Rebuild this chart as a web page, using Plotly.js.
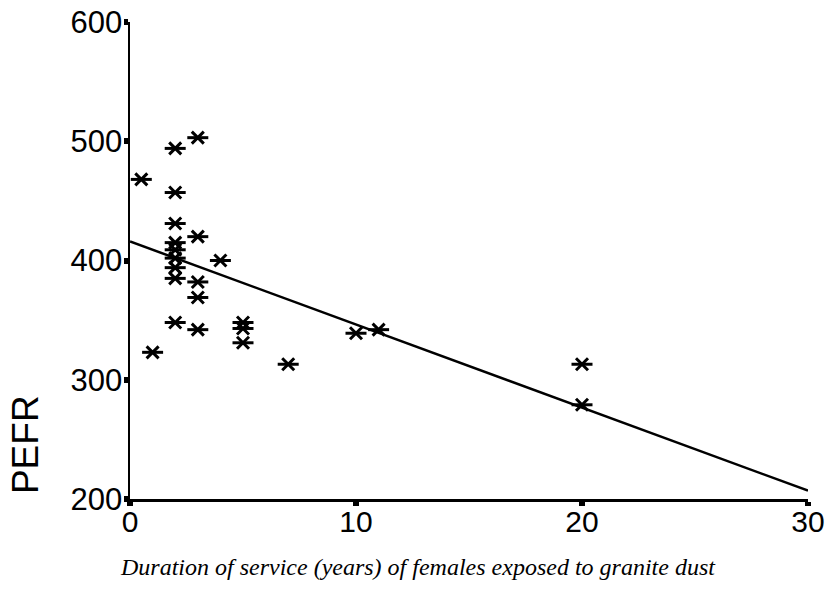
<!DOCTYPE html>
<html>
<head>
<meta charset="utf-8">
<script src="https://cdn.plot.ly/plotly-3.0.1.min.js"></script>
<style>html,body{margin:0;padding:0;background:#fff;}#chart{width:835px;height:594px;}</style>
</head>
<body>
<div id="chart"></div>
<script>
// Duration of service (years) and PEFR for each female worker
const years = [0.5, 1, 2, 2, 2, 2, 2, 2, 2, 2, 2, 3, 3, 3, 3, 3, 4, 5, 5, 5, 7, 10, 11, 20, 20];
const pefr  = [468, 323, 494, 457, 431, 415, 409, 402, 394, 385, 348, 503, 420, 382, 369, 342, 400, 348, 343, 331, 313, 339, 342, 313, 279];
// Regression line end points
const fitX = [0, 30];
const fitY = [416, 207];
const xTicks = [0, 10, 20, 30];
const yTicks = [200, 300, 400, 500, 600];

const markerBase = {color: '#000', line: {color: '#000', width: 3}};
const traces = [
  {x: fitX, y: fitY, mode: 'lines', line: {color: '#000', width: 2.5}, hoverinfo: 'skip', cliponaxis: false},
  {x: years, y: pefr, mode: 'markers', cliponaxis: false,
   marker: Object.assign({}, markerBase, {symbol: 'x-thin-open', size: 12})},
  {x: years, y: pefr, mode: 'markers', cliponaxis: false,
   marker: Object.assign({}, markerBase, {symbol: 'line-ew-open', size: 15})}
];

const layout = {
  width: 835, height: 594,
  margin: {l: 130, r: 27, t: 22, b: 95},
  showlegend: false,
  paper_bgcolor: '#fff', plot_bgcolor: '#fff',
  xaxis: {
    range: [0, 30], tickvals: xTicks, ticktext: xTicks.map(String),
    showgrid: false, zeroline: false, showline: true, linecolor: '#000', linewidth: 2.5,
    ticks: 'outside', ticklen: 4, tickwidth: 6, tickcolor: '#000', ticklabelstandoff: -10,
    tickfont: {family: 'Liberation Sans, Arial, sans-serif', size: 30, color: '#000'}
  },
  yaxis: {
    range: [200, 600], tickvals: yTicks, ticktext: yTicks.map(String),
    showgrid: false, zeroline: false, showline: true, linecolor: '#000', linewidth: 2.5,
    ticks: 'outside', ticklen: 4, tickwidth: 6, tickcolor: '#000', ticklabelstandoff: -5,
    tickfont: {family: 'Liberation Sans, Arial, sans-serif', size: 31, color: '#000'}
  },
  annotations: [
    {text: 'PEFR', textangle: -90, xref: 'paper', yref: 'paper', x: -0.155, y: 0.115,
     xanchor: 'center', yanchor: 'middle', showarrow: false,
     font: {family: 'Liberation Sans, Arial, sans-serif', size: 37, color: '#000'}},
    {text: '<i>Duration of service (years) of females exposed to granite dust</i>', xref: 'paper', yref: 'paper',
     x: (418 - 130) / 678, y: -0.142, xanchor: 'center', yanchor: 'middle', showarrow: false,
     font: {family: 'Liberation Serif, Times New Roman, serif', size: 24, color: '#000'}}
  ]
};

Plotly.newPlot('chart', traces, layout, {staticPlot: true, displayModeBar: false});
</script>
</body>
</html>
